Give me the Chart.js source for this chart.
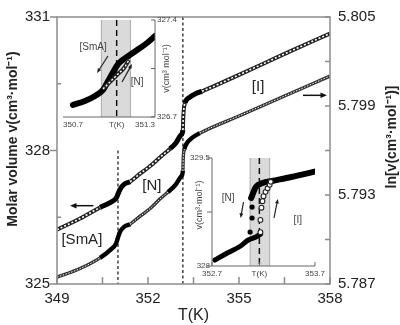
<!DOCTYPE html>
<html>
<head>
<meta charset="utf-8">
<script src="https://cdn.jsdelivr.net/npm/chart.js@4.4.0/dist/chart.umd.min.js"></script>
<style>
  html, body { margin: 0; padding: 0; background: #fff; }
  #wrap { position: relative; width: 400px; height: 325px; }
  canvas { position: absolute; }
  #main { left: 0; top: 0; }
  #ins1 { left: 50px; top: 12px; }
  #ins2 { left: 185px; top: 148px; }
</style>
</head>
<body>
<div id="wrap">
  <canvas id="main" width="400" height="325"></canvas>
  <canvas id="ins1" width="135" height="125"></canvas>
  <canvas id="ins2" width="143" height="135"></canvas>
</div>
<script>
// main plot: molar volume (circles, left axis) and ln v (triangles, right axis)
const circleT = [349.00, 349.76, 350.42, 350.75, 350.95, 351.01, 351.08, 351.21, 351.41, 351.74, 352.07, 352.40, 352.73, 352.92, 353.09, 353.15, 353.16, 353.18, 353.22, 353.38, 353.58, 353.78, 355.00, 356.50, 358.00];
const circleV = [326.22, 326.47, 326.72, 326.83, 326.93, 327.02, 327.13, 327.24, 327.30, 327.48, 327.65, 327.85, 328.04, 328.17, 328.35, 328.46, 328.70, 328.92, 329.07, 329.20, 329.28, 329.33, 329.70, 330.17, 330.63];
const circleFilled = [[350.42, 351.41], [352.73, 353.15], [353.22, 353.78]];

const triT = [349.00, 349.76, 350.42, 350.75, 350.95, 351.01, 351.08, 351.21, 351.41, 351.74, 352.07, 352.40, 352.66, 352.92, 353.09, 353.15, 353.16, 353.20, 353.25, 353.45, 353.71, 355.00, 356.50, 358.00];
const triLnV = [5.78746, 5.78804, 5.78876, 5.78928, 5.78974, 5.79013, 5.79052, 5.79085, 5.79104, 5.79157, 5.79209, 5.79274, 5.79320, 5.79372, 5.79424, 5.79463, 5.79541, 5.79607, 5.79639, 5.79685, 5.79717, 5.79833, 5.79967, 5.80102];
const triFilled = [[350.42, 351.41], [352.66, 353.15], [353.20, 353.71]];

const transitions = [351.01, 353.15];
const tTicks = [349, 352, 355, 358];
const tMinor = [350.5, 353.5, 356.5];
const vTicks = [325, 328, 331];
const vMinor = [326.5, 329.5];
const lnTicks = [5.787, 5.793, 5.799, 5.805];
const lnMinor = [5.790, 5.796, 5.802];

// inset 1: SmA-N transition
const in1CoolT = [350.765, 350.843, 350.909, 350.961, 350.987, 351.020, 351.059, 351.117, 351.183, 351.248, 351.300];
const in1CoolV = [326.787, 326.816, 326.852, 326.895, 326.945, 327.010, 327.082, 327.133, 327.184, 327.234, 327.285];
const in1HeatT = [350.961, 351.007, 351.052, 351.098, 351.130];
const in1HeatV = [326.902, 326.953, 327.003, 327.054, 327.111];
const in1Band = [350.95, 351.14];
const in1Center = 351.05;
const in1XTicks = [350.7, 351.05, 351.3];
const in1XLabels = ['350.7', 'T(K)', '351.3'];
const in1VTicks = [326.7, 327.05, 327.4];
const in1VLabels = ['326.7', '', '327.4'];

// inset 2: N-I transition
const in2LowT = [352.728, 352.848, 352.978, 353.052, 353.126, 353.172];
const in2LowV = [328.083, 328.181, 328.278, 328.361, 328.403, 328.444];
const in2UpT = [353.080, 353.126, 353.191, 353.283, 353.469, 353.720];
const in2UpV = [328.944, 329.097, 329.153, 329.181, 329.236, 329.319];
const in2DotT = [353.070, 353.089, 353.089];
const in2DotV = [328.472, 328.667, 328.819];
const in2HeatT = [353.17, 353.17, 353.18, 353.19, 353.20, 353.22, 353.24, 353.26, 353.27];
const in2HeatV = [328.47, 328.64, 328.81, 328.90, 328.97, 329.03, 329.08, 329.13, 329.17];
const in2Band = [353.07, 353.26];
const in2Center = 353.16;
const in2XTicks = [352.7, 353.16, 353.7];
const in2XLabels = ['352.7', 'T(K)', '353.7'];
const in2VTicks = [328, 328.75, 329.5];
const in2VLabels = ['328', '', '329.5'];

Chart.defaults.font.family = "'Liberation Sans', Arial, sans-serif";
Chart.defaults.color = '#222';

const FONT = "'Liberation Sans', Arial, sans-serif";

function pts(xs, ys) {
  return xs.map((x, i) => ({ x: x, y: ys[i] }));
}

function inRanges(ranges, a, b) {
  return ranges.some(r => a >= r[0] - 1e-6 && b <= r[1] + 1e-6);
}

// a chain of open markers: dark thick line with a dashed white core,
// the core is dropped where the markers are filled
function chain(xs, ys, filled, axis, w, core, dash, color) {
  const data = pts(xs, ys);
  return [
    {
      data: data, yAxisID: axis, borderColor: color, borderWidth: w, pointRadius: 0,
      cubicInterpolationMode: 'monotone', order: 2,
      segment: { borderWidth: c => inRanges(filled, c.p0.parsed.x, c.p1.parsed.x) ? w + 1 : w,
                 borderColor: c => inRanges(filled, c.p0.parsed.x, c.p1.parsed.x) ? '#000' : color }
    },
    {
      data: data, yAxisID: axis, borderColor: '#fff', borderWidth: core, borderDash: dash, pointRadius: 0,
      cubicInterpolationMode: 'monotone', order: 1,
      segment: { borderColor: c => inRanges(filled, c.p0.parsed.x, c.p1.parsed.x) ? 'rgba(0,0,0,0)' : '#fff' }
    }
  ];
}

function arrow(ctx, x0, y0, x1, y1, head, w) {
  const ang = Math.atan2(y1 - y0, x1 - x0);
  ctx.lineWidth = w;
  ctx.beginPath();
  ctx.moveTo(x0, y0);
  ctx.lineTo(x1 - Math.cos(ang) * head * 0.7, y1 - Math.sin(ang) * head * 0.7);
  ctx.stroke();
  ctx.beginPath();
  ctx.moveTo(x1, y1);
  ctx.lineTo(x1 - head * Math.cos(ang - 0.4), y1 - head * Math.sin(ang - 0.4));
  ctx.lineTo(x1 - head * Math.cos(ang + 0.4), y1 - head * Math.sin(ang + 0.4));
  ctx.closePath();
  ctx.fill();
}

function vText(ctx, text, x, y, font) {
  ctx.save();
  ctx.translate(x, y);
  ctx.rotate(-Math.PI / 2);
  ctx.font = font;
  ctx.textAlign = 'center';
  ctx.textBaseline = 'middle';
  ctx.fillText(text, 0, 0);
  ctx.restore();
}

function fixedTicks(vals) {
  return s => { s.ticks = vals.map(v => ({ value: v })); };
}

const mainDeco = {
  id: 'mainDeco',
  beforeDatasetsDraw(chart) {
    const { ctx, chartArea: a, scales: { x, y } } = chart;
    ctx.save();
    ctx.strokeStyle = '#111';
    ctx.lineWidth = 1.2;
    ctx.setLineDash([3, 2.5]);
    transitions.forEach((t, i) => {
      const px = x.getPixelForValue(t);
      ctx.beginPath();
      ctx.moveTo(px, i === 0 ? y.getPixelForValue(328) : a.top);
      ctx.lineTo(px, a.bottom);
      ctx.stroke();
    });
    ctx.restore();
  },
  afterDraw(chart) {
    const { ctx, chartArea: a, scales: { x, y, y2 } } = chart;
    ctx.save();
    ctx.strokeStyle = '#8c8c8c';
    ctx.lineWidth = 1.5;
    ctx.strokeRect(a.left, a.top, a.right - a.left, a.bottom - a.top);
    ctx.beginPath();
    vTicks.forEach(v => { const p = y.getPixelForValue(v); ctx.moveTo(a.left - 7, p); ctx.lineTo(a.left, p); });
    vMinor.forEach(v => { const p = y.getPixelForValue(v); ctx.moveTo(a.left, p); ctx.lineTo(a.left + 4, p); });
    tTicks.concat(tMinor).forEach(t => { const p = x.getPixelForValue(t); ctx.moveTo(p, a.bottom); ctx.lineTo(p, a.bottom - 7); });
    lnTicks.concat(lnMinor).forEach(v => { const p = y2.getPixelForValue(v); ctx.moveTo(a.right - 5, p); ctx.lineTo(a.right, p); });
    ctx.stroke();

    ctx.fillStyle = '#111';
    ctx.strokeStyle = '#111';
    arrow(ctx, x.getPixelForValue(350.2), y.getPixelForValue(326.76), x.getPixelForValue(349.43), y.getPixelForValue(326.76), 7, 1.5);
    arrow(ctx, x.getPixelForValue(357.11), y2.getPixelForValue(5.79972), x.getPixelForValue(357.9), y2.getPixelForValue(5.79972), 7, 1.5);

    ctx.fillStyle = '#222';
    ctx.font = '15px ' + FONT;
    ctx.textAlign = 'center';
    ctx.textBaseline = 'middle';
    ctx.fillText('[SmA]', x.getPixelForValue(349.82), y.getPixelForValue(326.0));
    ctx.fillText('[N]', x.getPixelForValue(352.13), y.getPixelForValue(327.2));
    ctx.fillText('[I]', x.getPixelForValue(355.63), y.getPixelForValue(329.43));

    vText(ctx, 'Molar volume v(cm³·mol⁻¹)', 13, 139, 'bold 14px ' + FONT);
    vText(ctx, 'ln[v(cm³·mol⁻¹)]', 392, 137, 'bold 14px ' + FONT);
    ctx.restore();
  }
};

new Chart(document.getElementById('main'), {
  type: 'line',
  data: {
    datasets: [
      ...chain(circleT, circleV, circleFilled, 'y', 4, 1.6, [2, 2], '#222'),
      ...chain(triT, triLnV, triFilled, 'y2', 3.4, 1, [1.5, 1.5], '#333')
    ]
  },
  options: {
    responsive: false,
    animation: false,
    layout: { padding: { top: 8 } },
    plugins: { legend: { display: false }, tooltip: { enabled: false } },
    scales: {
      x: {
        type: 'linear', min: 349, max: 358,
        afterFit: s => { s.height = 41; },
        afterBuildTicks: fixedTicks(tTicks),
        grid: { display: false, drawTicks: false }, border: { display: false },
        ticks: { padding: 6, font: { size: 15 }, color: '#222', maxRotation: 0, autoSkip: false },
        title: { display: true, text: 'T(K)', font: { size: 16 }, color: '#222', padding: { top: 0, bottom: 0 } }
      },
      y: {
        position: 'left', min: 325, max: 331,
        afterFit: s => { s.width = 57; },
        afterBuildTicks: fixedTicks(vTicks),
        grid: { display: false, drawTicks: false }, border: { display: false },
        ticks: { padding: 7, font: { size: 15 }, color: '#222' }
      },
      y2: {
        position: 'right', min: 5.787, max: 5.805,
        afterFit: s => { s.width = 70; },
        afterBuildTicks: fixedTicks(lnTicks),
        grid: { display: false, drawTicks: false }, border: { display: false },
        ticks: { padding: 8, font: { size: 15 }, color: '#222', callback: v => v.toFixed(3) }
      }
    }
  },
  plugins: [mainDeco]
});

// decoration shared by the two insets: grey band, dashed centre, axes, arrows, notes
function insetDeco(o) {
  return {
    id: 'insetDeco',
    beforeDatasetsDraw(chart) {
      const { ctx, chartArea: a, scales: { x } } = chart;
      const b0 = x.getPixelForValue(o.band[0]);
      const b1 = x.getPixelForValue(o.band[1]);
      ctx.save();
      ctx.fillStyle = '#dadada';
      ctx.fillRect(b0, a.top, b1 - b0, a.bottom - a.top);
      ctx.strokeStyle = '#9a9a9a';
      ctx.lineWidth = 0.8;
      ctx.beginPath();
      ctx.moveTo(b0, a.top); ctx.lineTo(b0, a.bottom);
      ctx.moveTo(b1, a.top); ctx.lineTo(b1, a.bottom);
      ctx.stroke();
      const c = x.getPixelForValue(o.center);
      ctx.strokeStyle = '#111';
      ctx.lineWidth = 1.5;
      ctx.setLineDash([6, 4]);
      ctx.beginPath();
      ctx.moveTo(c, a.top); ctx.lineTo(c, a.bottom);
      ctx.stroke();
      ctx.restore();
    },
    afterDraw(chart) {
      const { ctx, chartArea: a, scales: { x, y } } = chart;
      ctx.save();
      ctx.strokeStyle = '#666';
      ctx.lineWidth = 1;
      const side = o.side === 'right' ? a.right : a.left;
      ctx.beginPath();
      ctx.moveTo(a.left, a.bottom); ctx.lineTo(a.right, a.bottom);
      ctx.moveTo(side, a.top); ctx.lineTo(side, a.bottom);
      o.vTicks.forEach(v => {
        const p = y.getPixelForValue(v);
        ctx.moveTo(side, p); ctx.lineTo(o.side === 'right' ? side - 4 : side - 5, p);
      });
      o.xTicks.forEach(t => {
        const p = x.getPixelForValue(t);
        ctx.moveTo(p, a.bottom); ctx.lineTo(p, a.bottom - 4);
      });
      ctx.stroke();

      ctx.fillStyle = '#222';
      ctx.strokeStyle = '#222';
      o.arrows.forEach(r => arrow(ctx, x.getPixelForValue(r[0]), y.getPixelForValue(r[1]), x.getPixelForValue(r[2]), y.getPixelForValue(r[3]), 5, 1.2));

      ctx.fillStyle = '#444';
      ctx.font = '10px ' + FONT;
      ctx.textAlign = 'center';
      ctx.textBaseline = 'middle';
      o.notes.forEach(n => ctx.fillText(n[0], x.getPixelForValue(n[1]), y.getPixelForValue(n[2])));

      const tx = o.side === 'right' ? a.right + 12 : a.left - 12;
      vText(ctx, o.title, tx, (a.top + a.bottom) / 2 + o.titleShift, '9px ' + FONT);
      ctx.restore();
    }
  };
}

function insetScales(xr, xTicks, xLabels, xAlign, xh, side, vr, vTicks, vLabels, vw) {
  return {
    x: {
      type: 'linear', min: xr[0], max: xr[1],
      afterFit: s => { s.height = xh; },
      afterBuildTicks: fixedTicks(xTicks),
      grid: { display: false, drawTicks: false }, border: { display: false },
      ticks: { padding: 3, font: { size: 8 }, color: '#444', align: xAlign, maxRotation: 0, autoSkip: false,
               callback: (v, i) => xLabels[i] }
    },
    y: {
      position: side, min: vr[0], max: vr[1],
      afterFit: s => { s.width = vw; },
      afterBuildTicks: fixedTicks(vTicks),
      grid: { display: false, drawTicks: false }, border: { display: false },
      ticks: { padding: 2, font: { size: 8 }, color: '#444', callback: (v, i) => vLabels[i] }
    }
  };
}

new Chart(document.getElementById('ins1'), {
  type: 'line',
  data: {
    datasets: [
      { data: pts(in1CoolT, in1CoolV), borderColor: '#000', borderWidth: 6, pointRadius: 0,
        cubicInterpolationMode: 'monotone', borderCapStyle: 'round', order: 3 },
      ...chain(in1HeatT, in1HeatV, [], 'y', 4, 1.4, [2, 2], '#222')
    ]
  },
  options: {
    responsive: false,
    animation: false,
    layout: { padding: { left: 13, top: 8 } },
    plugins: { legend: { display: false }, tooltip: { enabled: false } },
    scales: insetScales([350.7, 351.3], in1XTicks, in1XLabels, 'inner', 20, 'right',
                        [326.7, 327.4], in1VTicks, in1VLabels, 30)
  },
  plugins: [insetDeco({
    band: in1Band, center: in1Center, side: 'right', vTicks: in1VTicks, xTicks: [],
    arrows: [[350.993, 327.140, 350.922, 327.018], [351.085, 326.953, 351.150, 327.082]],
    notes: [['[SmA]', 350.896, 327.205], ['[N]', 351.183, 326.953]],
    title: 'v(cm³ mol⁻¹)', titleShift: 0
  })]
});

new Chart(document.getElementById('ins2'), {
  type: 'line',
  data: {
    datasets: [
      { data: pts(in2LowT, in2LowV), borderColor: '#000', borderWidth: 5, pointRadius: 0,
        cubicInterpolationMode: 'monotone', borderCapStyle: 'round', order: 3 },
      { data: pts(in2UpT, in2UpV), borderColor: '#000', borderWidth: 6, pointRadius: 0,
        cubicInterpolationMode: 'monotone', borderCapStyle: 'round', order: 3 },
      { data: pts(in2DotT, in2DotV), showLine: false, pointRadius: 2.6, pointBackgroundColor: '#000',
        pointBorderColor: '#000', pointBorderWidth: 0, order: 2 },
      { data: pts(in2HeatT, in2HeatV), showLine: false, pointRadius: 2.4, pointBackgroundColor: '#fff',
        pointBorderColor: '#222', pointBorderWidth: 1.1, order: 1 }
    ]
  },
  options: {
    responsive: false,
    animation: false,
    layout: { padding: { top: 10, right: 8 } },
    plugins: { legend: { display: false }, tooltip: { enabled: false } },
    scales: insetScales([352.7, 353.7], in2XTicks, in2XLabels, 'center', 17, 'left',
                        [328, 329.5], in2VTicks, in2VLabels, 27)
  },
  plugins: [insetDeco({
    band: in2Band, center: in2Center, side: 'left', vTicks: in2VTicks, xTicks: in2XTicks,
    arrows: [[353.006, 328.889, 352.978, 328.667], [353.302, 328.667, 353.339, 328.931]],
    notes: [['[N]', 352.857, 328.944], ['[I]', 353.533, 328.639]],
    title: 'v(cm³·mol⁻¹)', titleShift: -7
  })]
});
</script>
</body>
</html>
